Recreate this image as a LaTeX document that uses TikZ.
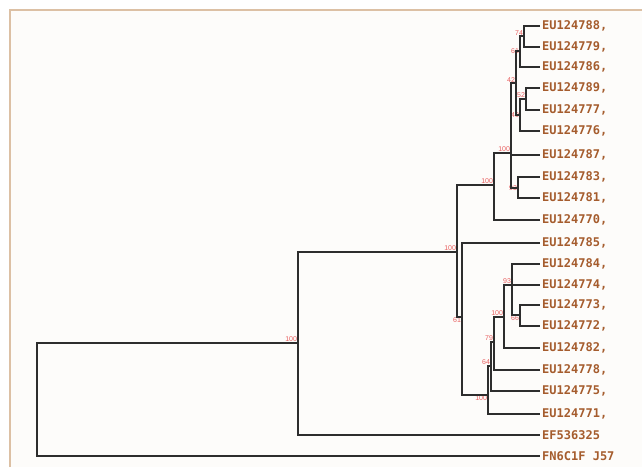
\documentclass[tikz,border=0pt]{standalone}
\usepackage{fontspec}
\usepackage{tikz}
\newfontfamily\leaffont{DejaVu Sans Mono}
\newfontfamily\bootfont{Liberation Sans}
\definecolor{leafbrown}{RGB}{165,92,45}
\definecolor{bootred}{RGB}{232,96,96}
\definecolor{treegray}{RGB}{45,45,45}
\definecolor{frametan}{RGB}{220,192,164}
\definecolor{paper}{RGB}{253,252,250}

\begin{document}
\begin{tikzpicture}
    [
    x=1pt, y=-1pt,
    junction/.style={inner sep=0pt,minimum size=0pt},
    leaf/.style={anchor=west,inner sep=2pt,text=leafbrown,font=\leaffont\bfseries\fontsize{12}{12}\selectfont},
    boot/.style={text=bootred,inner sep=0.6pt,font=\bootfont\fontsize{7}{7}\selectfont},
    branch/.style={draw=treegray,line width=2pt},
    ]
    \useasboundingbox (0,0) rectangle (642,467);
    \fill [white] (0,0) rectangle (642,467);
    \fill [paper] (10,10) rectangle (642,467);
    \draw [frametan, line width=2.8pt] (10,467) -- (10,10) -- (642,10);

    % inner nodes
    \node (r) at (37,400) [junction] {};
    \node (a) at (298,343) [junction, label={[boot]above left:100}] {};
    \node (b) at (457,252) [junction, label={[boot]above left:100}] {};
    \node (c) at (494,185) [junction, label={[boot]above left:100}] {};
    \node (d) at (511,153) [junction, label={[boot]above left:100}] {};
    \node (f) at (518,188) [junction, label={[boot]left:93}] {};
    \node (t3) at (516,83) [junction, label={[boot]above left:42}] {};
    \node (t2) at (520,51) [junction, label={[boot]left:61}] {};
    \node (t1) at (524,36) [junction, label={[boot]above left:74}] {};
    \node (h) at (520,115) [junction, label={[boot]left:40}] {};
    \node (g) at (526,99) [junction, label={[boot]above left:52}] {};
    \node (i) at (462,317) [junction, label={[boot]below left:61}] {};
    \node (j) at (488,395) [junction, label={[boot]below left:100}] {};
    \node (l) at (491,366) [junction, label={[boot]above left:64}] {};
    \node (m) at (494,342) [junction, label={[boot]above left:79}] {};
    \node (k3) at (504,317) [junction, label={[boot]above left:100}] {};
    \node (k2) at (512,285) [junction, label={[boot]above left:93}] {};
    \node (k1) at (520,315) [junction, label={[boot]below left:66}] {};

    % leaves
    \node (l88) at (540,26) [leaf] {EU124788,};
    \node (l79) at (540,47) [leaf] {EU124779,};
    \node (l86) at (540,67) [leaf] {EU124786,};
    \node (l89) at (540,88) [leaf] {EU124789,};
    \node (l77) at (540,110) [leaf] {EU124777,};
    \node (l76) at (540,131) [leaf] {EU124776,};
    \node (l87) at (540,155) [leaf] {EU124787,};
    \node (l83) at (540,177) [leaf] {EU124783,};
    \node (l81) at (540,198) [leaf] {EU124781,};
    \node (l70) at (540,220) [leaf] {EU124770,};
    \node (l85) at (540,243) [leaf] {EU124785,};
    \node (l84) at (540,264) [leaf] {EU124784,};
    \node (l74) at (540,285) [leaf] {EU124774,};
    \node (l73) at (540,305) [leaf] {EU124773,};
    \node (l72) at (540,326) [leaf] {EU124772,};
    \node (l82) at (540,348) [leaf] {EU124782,};
    \node (l78) at (540,370) [leaf] {EU124778,};
    \node (l75) at (540,391) [leaf] {EU124775,};
    \node (l71) at (540,414) [leaf] {EU124771,};
    \node (ef) at (540,435) [leaf] {EF536325};
    \node (fn) at (540,456) [leaf] {FN6C1F J57};

    % branches
    \draw [branch] (r) |- (a);
    \draw [branch] (r) |- (fn);
    \draw [branch] (a) |- (b);
    \draw [branch] (a) |- (ef);
    \draw [branch] (b) |- (c);
    \draw [branch] (b) |- (i);
    \draw [branch] (c) |- (d);
    \draw [branch] (c) |- (l70);
    \draw [branch] (d) |- (t3);
    \draw [branch] (d) |- (l87);
    \draw [branch] (d) |- (f);
    \draw [branch] (f) |- (l83);
    \draw [branch] (f) |- (l81);
    \draw [branch] (t3) |- (t2);
    \draw [branch] (t3) |- (h);
    \draw [branch] (t2) |- (t1);
    \draw [branch] (t2) |- (l86);
    \draw [branch] (t1) |- (l88);
    \draw [branch] (t1) |- (l79);
    \draw [branch] (h) |- (g);
    \draw [branch] (h) |- (l76);
    \draw [branch] (g) |- (l89);
    \draw [branch] (g) |- (l77);
    \draw [branch] (i) |- (l85);
    \draw [branch] (i) |- (j);
    \draw [branch] (j) |- (l);
    \draw [branch] (j) |- (l71);
    \draw [branch] (l) |- (m);
    \draw [branch] (l) |- (l75);
    \draw [branch] (m) |- (k3);
    \draw [branch] (m) |- (l78);
    \draw [branch] (k3) |- (k2);
    \draw [branch] (k3) |- (l82);
    \draw [branch] (k2) |- (l84);
    \draw [branch] (k2) |- (l74);
    \draw [branch] (k2) |- (k1);
    \draw [branch] (k1) |- (l73);
    \draw [branch] (k1) |- (l72);
  \end{tikzpicture}
\end{document}
